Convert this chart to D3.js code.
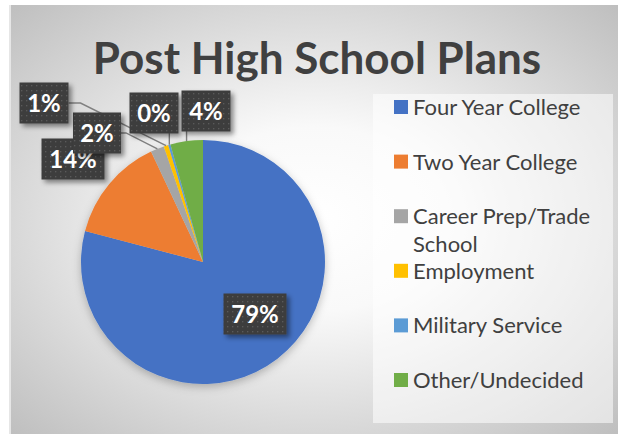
<!DOCTYPE html>
<html>
<head>
<meta charset="utf-8">
<script src="https://cdn.jsdelivr.net/npm/d3@7"></script>
<style>
body{margin:0;background:#fff;}
svg{display:block;}
</style>
</head>
<body>
<script>
var categories=["Four Year College","Two Year College","Career Prep/Trade School","Employment","Military Service","Other/Undecided"];
var values=[79.1,13.9,1.8,0.6,0.3,4.3];
var colors=["#4472C4","#ED7D31","#A5A5A5","#FFC000","#5B9BD5","#70AD47"];
var titleText="Post High School Plans";

// where Excel put each data label box (centre x, centre y, width)
var labelBoxes=[[255,314,63],[73,159,63],[97,133,48],[44,103,49],[154,113,49],[206,111,49]];

var W=618,H=434;
var cx=203,cy=262,radius=122;

var svg=d3.select("body").append("svg")
  .attr("width",W)
  .attr("height",H);

var defs=svg.append("defs");

var bg=defs.append("radialGradient")
  .attr("id","bgGrad")
  .attr("cx","0.5").attr("cy","0.5").attr("r","0.72");
bg.append("stop").attr("offset","0").attr("stop-color","#ffffff");
bg.append("stop").attr("offset","0.3").attr("stop-color","#f9f9f9");
bg.append("stop").attr("offset","1").attr("stop-color","#bdbdbd");

var dots=defs.append("pattern")
  .attr("id","dots")
  .attr("patternUnits","userSpaceOnUse")
  .attr("width",5).attr("height",5);
dots.append("rect").attr("width",5).attr("height",5).attr("fill","#3d3d3d");
dots.append("rect").attr("x",2).attr("y",2).attr("width",1.3).attr("height",1.3).attr("fill","#5a5a5a");

var shadow=defs.append("filter").attr("id","boxShadow")
  .attr("x","-30%").attr("y","-30%").attr("width","160%").attr("height","160%");
shadow.append("feDropShadow").attr("dx",3).attr("dy",3).attr("stdDeviation",2.5)
  .attr("flood-color","#000").attr("flood-opacity",0.45);

var pieShadow=defs.append("filter").attr("id","pieShadow")
  .attr("x","-20%").attr("y","-20%").attr("width","140%").attr("height","140%");
pieShadow.append("feDropShadow").attr("dx",0).attr("dy",3).attr("stdDeviation",4)
  .attr("flood-color","#000").attr("flood-opacity",0.25);

// chart area
svg.append("rect")
  .attr("x",9).attr("y",5)
  .attr("width",W-9).attr("height",H-5)
  .attr("fill","url(#bgGrad)");
svg.append("line")
  .attr("x1",10).attr("y1",5).attr("x2",10).attr("y2",H)
  .attr("stroke","#e6e6e6").attr("stroke-width",2);

// legend panel
svg.append("rect")
  .attr("x",373).attr("y",94)
  .attr("width",240).attr("height",329)
  .attr("fill","#ffffff").attr("fill-opacity",0.55);

svg.append("text")
  .attr("x",317).attr("y",74)
  .attr("text-anchor","middle")
  .attr("font-family","Lato, 'Open Sans', sans-serif")
  .attr("font-weight","bold")
  .attr("font-size",44)
  .attr("fill","#404040")
  .text(titleText);

var pie=d3.pie().sort(null).value(function(d){return d;});
var arcs=pie(values);
var arc=d3.arc().innerRadius(0).outerRadius(radius);
var edgeArc=d3.arc().innerRadius(radius).outerRadius(radius);

var g=svg.append("g")
  .attr("transform","translate("+cx+","+cy+")");

g.append("g")
  .attr("filter","url(#pieShadow)")
  .selectAll("path")
  .data(arcs)
  .enter().append("path")
  .attr("d",arc)
  .attr("fill",function(d,i){return colors[i];});

var total=d3.sum(values);

// leader lines
arcs.forEach(function(d,i){
  if(i<2)return;
  var b=labelBoxes[i];
  var p=edgeArc.centroid(d);
  var px=p[0]+cx,py=p[1]+cy;
  var left=b[0]-b[2]/2,right=b[0]+b[2]/2,bottom=b[1]+20;
  var pts;
  if(px>=left&&px<=right){
    pts=[[px,bottom],[px,py]];
  }else{
    pts=[[right,b[1]],[right+(i==3?12:5),b[1]],[px,py]];
  }
  svg.append("path")
    .attr("d",d3.line()(pts))
    .attr("fill","none")
    .attr("stroke","#7f7f7f")
    .attr("stroke-width",1.4);
});

// data labels
var labels=svg.append("g");
arcs.forEach(function(d,i){
  var b=labelBoxes[i];
  var lab=labels.append("g").attr("transform","translate("+b[0]+","+b[1]+")");
  lab.append("rect")
    .attr("x",-b[2]/2).attr("y",-20.5)
    .attr("width",b[2]).attr("height",41)
    .attr("fill","url(#dots)")
    .attr("filter","url(#boxShadow)");
  lab.append("text")
    .attr("text-anchor","middle")
    .attr("y",8.5)
    .attr("font-family","Lato, 'Open Sans', sans-serif")
    .attr("font-weight","bold")
    .attr("font-size",24)
    .attr("fill","#ffffff")
    .text(Math.round(d.data/total*100)+"%");
});

// legend
var legendY=d3.scalePoint().domain(categories).range([107,380]);
var legend=svg.append("g");
categories.forEach(function(c,i){
  var y=legendY(c);
  legend.append("rect")
    .attr("x",394).attr("y",y-7)
    .attr("width",14).attr("height",14)
    .attr("fill",colors[i]);
  var t=legend.append("text")
    .attr("x",413).attr("y",y+8)
    .attr("font-family","Lato, 'Open Sans', sans-serif")
    .attr("font-size",22)
    .attr("fill","#404040");
  var words=c.split(" "),line=[];
  var span=t.append("tspan").attr("x",413);
  words.forEach(function(w){
    line.push(w);
    span.text(line.join(" "));
    if(span.node().getComputedTextLength()>195&&line.length>1){
      line.pop();
      span.text(line.join(" "));
      line=[w];
      span=t.append("tspan").attr("x",413).attr("dy",28).text(w);
    }
  });
});
</script>
</body>
</html>
